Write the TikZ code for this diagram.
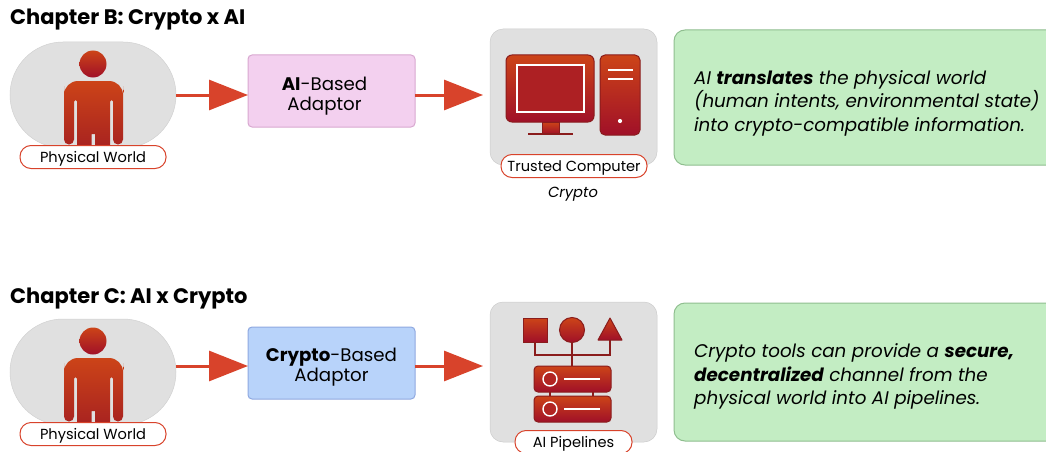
\documentclass[tikz,border=0pt]{standalone}
\usepackage{fontspec}
\setmainfont{Poppins}
\usetikzlibrary{arrows.meta}
\definecolor{hot}{HTML}{CC4418}
\definecolor{deep}{HTML}{A01028}
\definecolor{rim}{HTML}{8A1C1C}
\definecolor{scarlet}{HTML}{D8432B}
\definecolor{noteg}{HTML}{C3EDC3}
\definecolor{noteb}{HTML}{8FBE8F}
\definecolor{pinkf}{HTML}{F3D0EF}
\definecolor{pinkb}{HTML}{D8A8D0}
\definecolor{bluef}{HTML}{B8D3FA}
\definecolor{blueb}{HTML}{8FA8E0}
\tikzset{
  oval/.style={fill=black!12,draw=black!18,line width=.5pt,rounded corners=53pt,minimum width=166pt,minimum height=106pt,inner sep=0pt,outer sep=0pt},
  tile/.style={fill=black!12,draw=black!20,line width=.5pt,rounded corners=13pt,minimum width=167pt,inner sep=0pt,outer sep=0pt},
  capsule/.style={fill=white,draw=scarlet,line width=1pt,rounded corners=11pt,minimum height=23pt,inner sep=0pt,text height=10.5pt,text depth=0pt,font=\fontsize{14.6}{16}\selectfont},
  adaptor/.style={line width=1pt,rounded corners=4pt,minimum width=167pt,minimum height=72pt,inner sep=0pt,outer sep=0pt},
  adtext/.style={inner sep=0pt,align=center,font=\fontsize{18.2}{20.5}\selectfont},
  note/.style={fill=noteg,draw=noteb,line width=1pt,rounded corners=11pt,minimum width=390pt,inner sep=0pt,outer sep=0pt,anchor=north west},
  notetext/.style={anchor=west,inner sep=0pt,align=left,font=\fontsize{18.3}{23.5}\selectfont\itshape},
  chapter/.style={anchor=west,inner sep=0pt,text height=15pt,text depth=0pt,font=\fontsize{21}{24}\selectfont\bfseries},
  flow/.style={draw=scarlet,line width=3pt,-{Triangle[length=39pt,width=30pt,fill=scarlet]}},
  grad/.style={top color=hot,bottom color=deep,draw=rim,line width=1pt},
  wline/.style={draw=white,line width=1.4pt},
}
\begin{document}
\begin{tikzpicture}[x=1pt,y=-1pt]
\useasboundingbox (0,0) rectangle (1046,452);
\clip (0,0) rectangle (1046,452);
\node[chapter] (chapB) at (10,17.5) {Chapter B: Crypto x AI};
\node[chapter] (chapC) at (10,296) {Chapter C: AI x Crypto};
% the person, twice
\foreach \s/\d in {B/0,C/277}{
\node[oval] (phys\s) at (93,95+\d) {};
\shade[top color=hot,bottom color=deep] (93,64+\d) circle (13.5);
\shade[top color=hot,bottom color=deep!60!hot!95!black,rounded corners=14pt]
  (64,100+\d)--(64,81+\d)--(123,81+\d)--(123,100+\d)[rounded corners=5pt]--(123,144.5+\d)--(113,144.5+\d)
  [rounded corners=1.5pt]--(113,100+\d)--(110,100+\d)[sharp corners]--(110,146+\d)--(95,146+\d)--(95,134+\d)--(91.5,134+\d)--(91.5,146+\d)--(77,146+\d)
  [rounded corners=1.5pt]--(77,100+\d)--(74,100+\d)[rounded corners=5pt]--(74,144.5+\d)--(64,144.5+\d)[rounded corners=14pt]--cycle;
\node[capsule,minimum width=146pt] (lab\s) at (93,157+\d) {Physical World};
}
% adaptors
\node[adaptor,fill=pinkf,draw=pinkb] (adaptB) at (331.5,91) {};
\node[adtext] (textB) at (324.5,96) {\textbf{AI}-Based\\Adaptor};
\node[adaptor,fill=bluef,draw=blueb] (adaptC) at (331.5,363) {};
\node[adtext] (textC) at (331.5,367) {\textbf{Crypto}-Based\\Adaptor};
% tiles
\node[tile,minimum height=136pt] (tileB) at (573.5,97) {};
\node[tile,minimum height=140pt] (tileC) at (573.5,372) {};
\node[capsule,minimum width=146pt] (labT) at (574,166) {Trusted Computer};
\node[capsule,minimum width=117pt] (labA) at (573.5,442) {AI Pipelines};
\node[inner sep=0pt,text height=10.5pt,text depth=0pt,font=\fontsize{14.7}{16}\selectfont\itshape] (crypto) at (573,192.5) {Crypto};
% arrows
\draw[flow] (physB.east)--([yshift=-4pt]adaptB.west);
\draw[flow,shorten >=7pt] ([yshift=-4pt]adaptB.east)--(tileB.west |- physB.east);
\draw[flow] ([yshift=6pt]physC.east)--([yshift=-3pt]adaptC.west);
\draw[flow,shorten >=7pt] ([yshift=-3pt]adaptC.east)--([yshift=6pt]tileC.west);
% computer
\draw[grad,rounded corners=6pt] (506,55) rectangle (594,122);
\draw[wline,fill=deep!70!hot] (517,65) rectangle (584,112);
\draw[grad,line width=.6pt] (542,122) rectangle (559,134);
\draw[rim,line width=2pt] (528,134)--(573,134);
\draw[grad,rounded corners=5pt] (600,55) rectangle (640,135);
\foreach \y in {70,79}{\draw[wline] (608,\y)--(633,\y);}
\fill[white] (620,121) circle (2.1);
% pipelines
\draw[rim,line width=1.2pt] (535,342)--(535,355)--(610,355)--(610,340);
\draw[rim,line width=1.2pt] (572,342)--(572,366);
\foreach \x in {550,593}{\draw[rim,line width=1.2pt] (\x,392)--(\x,396);}
\draw[grad] (523,318) rectangle (547,342);
\draw[grad] (572,330) circle (12.5);
\draw[grad,line join=round] (610,318)--(622,340)--(598,340)--cycle;
\foreach \y in {366,396}{
\draw[grad,rounded corners=4pt] (534,\y) rectangle (611,\y+26);
\draw[wline,fill=deep!60!hot] (550,\y+13) circle (7);
\draw[wline] (564,\y+13)--(600,\y+13);
}
% notes
\node[note,minimum height=135pt] (noteB) at (674,30) {};
\node[notetext] (saidB) at (694,103) {AI \textbf{translates} the physical world\\(human intents, environmental state)\\into crypto-compatible information.};
\node[note,minimum height=138pt] (noteC) at (674,303) {};
\node[notetext] (saidC) at (694,376.5) {Crypto tools can provide a \textbf{secure,}\\\textbf{decentralized} channel from the\\physical world into AI pipelines.};
\end{tikzpicture}
\end{document}
